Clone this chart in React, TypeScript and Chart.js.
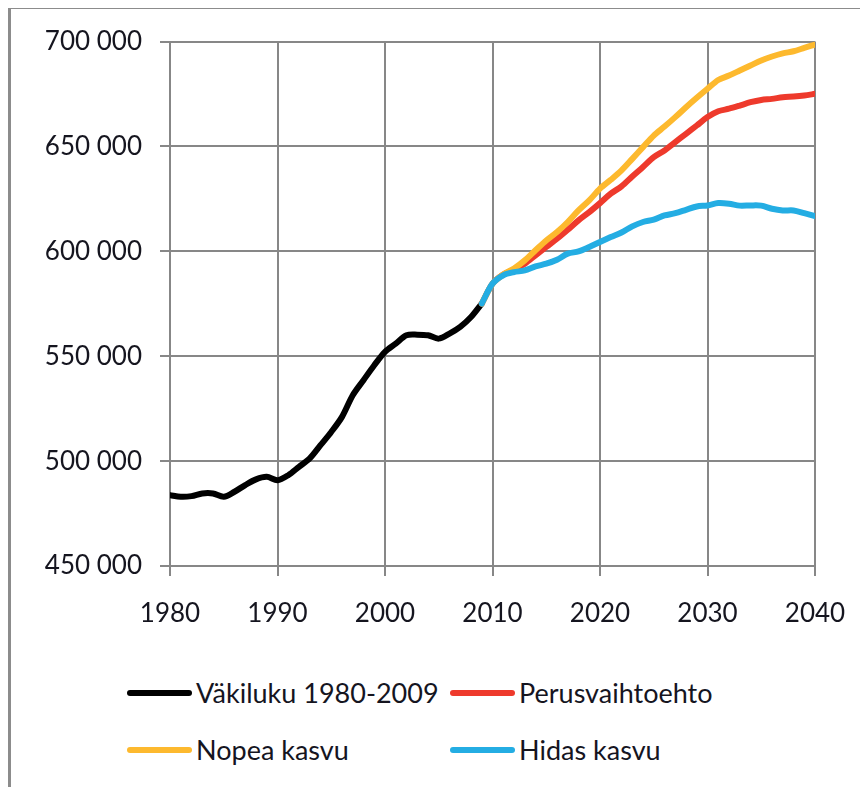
import React, { useEffect, useRef } from "react";
import { Chart, registerables } from "chart.js";

Chart.register(...registerables);

const histYears = [1980, 1981, 1982, 1983, 1984, 1985, 1986, 1987, 1988, 1989, 1990, 1991, 1992, 1993, 1994, 1995, 1996, 1997, 1998, 1999, 2000, 2001, 2002, 2003, 2004, 2005, 2006, 2007, 2008, 2009];
const histValues = [483800, 483000, 483300, 484600, 484600, 483000, 485400, 488600, 491300, 492500, 490900, 493300, 497300, 501300, 507600, 513900, 521100, 531400, 538600, 545700, 552100, 556000, 560000, 560300, 560000, 558400, 560800, 564000, 568700, 575100];

const projYears = [2009, 2010, 2011, 2012, 2013, 2014, 2015, 2016, 2017, 2018, 2019, 2020, 2021, 2022, 2023, 2024, 2025, 2026, 2027, 2028, 2029, 2030, 2031, 2032, 2033, 2034, 2035, 2036, 2037, 2038, 2039, 2040];
const perusValues = [575100, 584600, 589000, 591300, 594100, 598100, 602100, 606000, 610300, 614800, 618700, 623000, 627500, 631000, 635700, 640200, 644900, 648100, 652100, 656000, 660000, 664000, 666800, 668000, 669500, 671100, 672200, 672700, 673500, 673800, 674300, 675100];
const nopeaValues = [575100, 584600, 589000, 591800, 595700, 600500, 605200, 609200, 614000, 619500, 624300, 629900, 634100, 638600, 644100, 649700, 655200, 659500, 664000, 668700, 673200, 677500, 681700, 683800, 686200, 688600, 691000, 692900, 694400, 695400, 697000, 698600];
const hidasValues = [575100, 584600, 588600, 590100, 590900, 592800, 594100, 596000, 598900, 600000, 602100, 604500, 606800, 609000, 611900, 614000, 615100, 617100, 618200, 619800, 621400, 621900, 623000, 622700, 621800, 621900, 621800, 620300, 619500, 619500, 618200, 616800];

const legendLabels = ["Väkiluku 1980-2009", "Perusvaihtoehto", "Nopea kasvu", "Hidas kasvu"];
const colors = ["#000000", "#EE3A2C", "#FDB92E", "#24ADE3"];

const FONT = "Lato, 'Open Sans', sans-serif";
const GRID = "#878787";
const TEXT = "#15151f";

function fmt(v: number): string {
  return String(v).replace(/\B(?=(\d{3})+(?!\d))/g, " ");
}

function pts(xs: number[], ys: number[]) {
  return xs.map((x, i) => ({ x, y: ys[i] }));
}

export default function App() {
  const ref = useRef<HTMLCanvasElement | null>(null);

  useEffect(() => {
    if (!ref.current) return;
    const common = {
      borderWidth: 6,
      pointRadius: 0,
      tension: 0.3,
      borderCapStyle: "round" as const,
      borderJoinStyle: "round" as const,
      fill: false,
    };
    const chart = new Chart(ref.current, {
      type: "line",
      data: {
        datasets: [
          { ...common, label: legendLabels[3], data: pts(projYears, hidasValues), borderColor: colors[3] },
          { ...common, label: legendLabels[2], data: pts(projYears, nopeaValues), borderColor: colors[2] },
          { ...common, label: legendLabels[1], data: pts(projYears, perusValues), borderColor: colors[1] },
          { ...common, label: legendLabels[0], data: pts(histYears, histValues), borderColor: colors[0] },
        ],
      },
      options: {
        animation: false,
        responsive: false,
        devicePixelRatio: 1,
        layout: { padding: { top: 33, right: 53, left: 0, bottom: 0 } },
        plugins: { legend: { display: false }, tooltip: { enabled: false } },
        scales: {
          x: {
            type: "linear",
            min: 1980,
            max: 2040,
            afterFit: (s: any) => {
              s.height = 62;
            },
            ticks: {
              stepSize: 10,
              padding: 22,
              color: TEXT,
              font: { family: FONT, size: 26 },
              maxRotation: 0,
              callback: (v: any) => String(v),
            },
            grid: { color: GRID, lineWidth: 2, tickLength: 10, drawTicks: true },
            border: { color: GRID, width: 2 },
          },
          y: {
            min: 450000,
            max: 700000,
            afterFit: (s: any) => {
              s.width = 162;
            },
            ticks: {
              stepSize: 50000,
              padding: 18,
              color: TEXT,
              font: { family: FONT, size: 26 },
              callback: (v: any) => fmt(Number(v)),
            },
            grid: { color: GRID, lineWidth: 2, tickLength: 10, drawTicks: true },
            border: { color: GRID, width: 2 },
          },
        },
      },
    } as any);
    return () => chart.destroy();
  }, []);

  const legendItem = (i: number, left: number, top: number) => (
    <div
      key={i}
      style={{ position: "absolute", left, top, height: 40, display: "flex", alignItems: "center" }}
    >
      <div style={{ width: 65, height: 6, borderRadius: 3, background: colors[i], marginRight: 4 }} />
      <span style={{ fontFamily: FONT, fontSize: 27, color: TEXT, whiteSpace: "nowrap", lineHeight: "40px" }}>
        {legendLabels[i]}
      </span>
    </div>
  );

  return (
    <div style={{ position: "relative", width: 860, height: 779, overflow: "visible" }}>
      <div
        style={{
          position: "absolute",
          left: 0,
          top: -2,
          width: 860,
          height: 781,
          borderTop: "3px solid #8c8c8c",
          borderLeft: "3px solid #8c8c8c",
          boxSizing: "border-box",
        }}
      />
      <canvas
        ref={ref}
        width={860}
        height={620}
        style={{ position: "absolute", left: 0, top: 0, width: 860, height: 620 }}
      />
      {legendItem(0, 119, 665)}
      {legendItem(1, 442, 665)}
      {legendItem(2, 119, 722)}
      {legendItem(3, 442, 722)}
    </div>
  );
}
